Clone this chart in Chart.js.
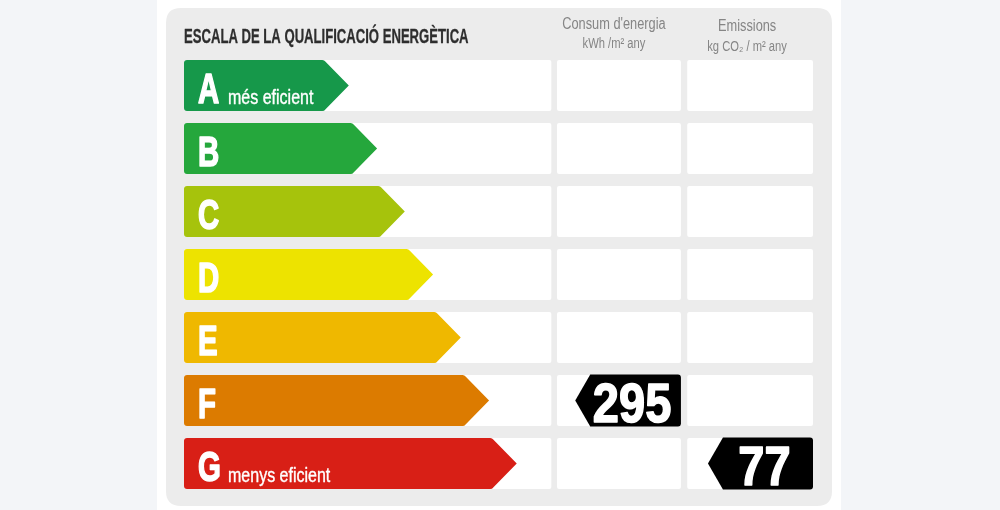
<!DOCTYPE html>
<html>
<head>
<meta charset="utf-8">
<title>Escala de la qualificació energètica</title>
<script src="https://cdn.jsdelivr.net/npm/chart.js@4/dist/chart.umd.min.js"></script>
<style>
  html, body { margin:0; padding:0; background:#f3f5f8; }
  canvas { display:block; }
</style>
</head>
<body>
<canvas id="labelChart" width="1000" height="510"></canvas>
<script>
// ======================
// DATA
// ======================
const ratings = ["A","B","C","D","E","F","G"];
const ratingNotes = ["més eficient","","","","","","menys eficient"];
const ratingColors = ["#16984a","#25a73c","#a6c30c","#ede300","#efb800","#dc7b00","#d81f16"];
// arrow length, % of the label width
const arrowLength = [26.2, 30.7, 35.1, 39.6, 44.0, 48.5, 52.9];

const columnTitles = ["Consum d'energia","Emissions"];
const columnUnits = ["kWh /m² any","kg CO₂ / m² any"];

const consumptionValue = 295;
const consumptionRating = "F";
const emissionsValue = 77;
const emissionsRating = "G";

// cell spans on the x scale: label column, consumption, emissions
const columnSpans = [[0, 58.4], [59.3, 79.0], [80.0, 100]];


// ======================
// FONT CHECK (narrow face may be missing)
// ======================
const probe = document.createElement("canvas").getContext("2d");
probe.font = "bold 40px 'Liberation Sans Narrow', monospace";
const wNarrow = probe.measureText("ABCDEFG").width;
probe.font = "bold 40px monospace";
const wMono = probe.measureText("ABCDEFG").width;
const hasNarrow = Math.abs(wNarrow - wMono) > 2;
const FAM = hasNarrow ? "'Liberation Sans Narrow', sans-serif" : "'Liberation Sans', Arial, sans-serif";
const SX = hasNarrow ? 1.22 : 1;   // base factor, texts below ask for their own squeeze

// squeeze: horizontal scale relative to the regular face; heavy: extra stroke
function narrowText(ctx, txt, x, y, font, color, align, squeeze, heavy){
  ctx.save();
  ctx.font = font;
  ctx.fillStyle = color;
  ctx.textAlign = align || "left";
  ctx.textBaseline = "alphabetic";
  ctx.translate(x, y);
  ctx.scale(Math.min(1, squeeze * SX), 1);
  ctx.fillText(txt, 0, 0);
  if(heavy){
    ctx.strokeStyle = color;
    ctx.lineWidth = heavy;
    ctx.lineJoin = "round";
    ctx.strokeText(txt, 0, 0);
  }
  ctx.restore();
}

function roundRect(ctx, x, y, w, h, r){
  ctx.beginPath();
  ctx.moveTo(x + r, y);
  ctx.lineTo(x + w - r, y);
  ctx.quadraticCurveTo(x + w, y, x + w, y + r);
  ctx.lineTo(x + w, y + h - r);
  ctx.quadraticCurveTo(x + w, y + h, x + w - r, y + h);
  ctx.lineTo(x + r, y + h);
  ctx.quadraticCurveTo(x, y + h, x, y + h - r);
  ctx.lineTo(x, y + r);
  ctx.quadraticCurveTo(x, y, x + r, y);
  ctx.closePath();
}


// ======================
// PLUGIN: panel, cells, arrows, markers
// ======================
const energyLabel = {
  id: "energyLabel",
  beforeDraw(chart){
    const ctx = chart.ctx;
    const xs = chart.scales.x, ys = chart.scales.y;
    ctx.save();
    ctx.fillStyle = "#f3f5f8";
    ctx.fillRect(0, 0, chart.width, chart.height);
    ctx.fillStyle = "#ffffff";
    ctx.fillRect(157, 0, 684, chart.height);
    ctx.fillStyle = "#ececec";
    roundRect(ctx, 166, 8, 666, 498, 15);
    ctx.fill();

    // white cells
    const band = (ys.getPixelForValue(1) - ys.getPixelForValue(0));
    const cellH = band * 0.81;
    ctx.fillStyle = "#ffffff";
    ratings.forEach((r, i) => {
      const cy = ys.getPixelForValue(i);
      columnSpans.forEach(s => {
        const x0 = xs.getPixelForValue(s[0]);
        const x1 = xs.getPixelForValue(s[1]);
        roundRect(ctx, x0, cy - cellH / 2, x1 - x0, cellH, 2);
        ctx.fill();
      });
    });

    // title + column headers
    narrowText(ctx, "ESCALA DE LA QUALIFICACIÓ ENERGÈTICA", xs.left, 43,
      "bold 20px " + FAM, "#2e2e2e", "left", 0.655, 0.3);
    const c1 = (xs.getPixelForValue(columnSpans[1][0]) + xs.getPixelForValue(columnSpans[1][1])) / 2 - 5;
    const c2 = (xs.getPixelForValue(columnSpans[2][0]) + xs.getPixelForValue(columnSpans[2][1])) / 2 - 3;
    narrowText(ctx, columnTitles[0], c1, 29, "16px " + FAM, "#858585", "center", 0.8);
    narrowText(ctx, columnUnits[0], c1, 48, "14px " + FAM, "#858585", "center", 0.8);
    narrowText(ctx, columnTitles[1], c2, 31, "16px " + FAM, "#858585", "center", 0.8);
    narrowText(ctx, columnUnits[1], c2, 51, "14px " + FAM, "#858585", "center", 0.8);
    ctx.restore();
  },
  beforeDatasetDraw(chart, args){
    const ctx = chart.ctx;
    const meta = args.meta;
    ctx.save();
    if(args.index === 0){
      meta.data.forEach((bar, i) => {
        const left = Math.min(bar.base, bar.x);
        const tip = Math.max(bar.base, bar.x);
        const top = bar.y - bar.height / 2;
        const bot = bar.y + bar.height / 2;
        const d = bar.height / 2;
        const r = 3;
        ctx.fillStyle = ratingColors[i];
        ctx.beginPath();
        ctx.moveTo(left + r, top);
        ctx.lineTo(tip - d - 1, top);
        ctx.quadraticCurveTo(tip - d + 1, top, tip - d + 2, top + 1.5);
        ctx.lineTo(tip, bar.y);
        ctx.lineTo(tip - d + 2, bot - 1.5);
        ctx.quadraticCurveTo(tip - d + 1, bot, tip - d - 1, bot);
        ctx.lineTo(left + r, bot);
        ctx.quadraticCurveTo(left, bot, left, bot - r);
        ctx.lineTo(left, top + r);
        ctx.quadraticCurveTo(left, top, left + r, top);
        ctx.closePath();
        ctx.fill();

        narrowText(ctx, ratings[i], left + 14, bar.y + 17, "bold 42px " + FAM, "#ffffff", "left", 0.7, 1.6);
        if(ratingNotes[i]){
          narrowText(ctx, ratingNotes[i], left + 44, bar.y + 18, "20px " + FAM, "#ffffff", "left", 0.8, 0.4);
        }
      });
    } else {
      const value = args.index === 1 ? consumptionValue : emissionsValue;
      meta.data.forEach(bar => {
        const tip = Math.min(bar.base, bar.x);
        const right = Math.max(bar.base, bar.x);
        const top = bar.y - bar.height / 2;
        const bot = bar.y + bar.height / 2;
        const d = 15;
        const r = 3;
        ctx.fillStyle = "#000000";
        ctx.beginPath();
        ctx.moveTo(tip + d, top);
        ctx.lineTo(right - r, top);
        ctx.quadraticCurveTo(right, top, right, top + r);
        ctx.lineTo(right, bot - r);
        ctx.quadraticCurveTo(right, bot, right - r, bot);
        ctx.lineTo(tip + d, bot);
        ctx.lineTo(tip, bar.y);
        ctx.closePath();
        ctx.fill();
        const cx = (tip + d + right) / 2 - 3.5;
        narrowText(ctx, String(value), cx, bar.y + 21.5, "bold 56px " + FAM, "#ffffff", "center", 0.84, 1.6);
      });
    }
    ctx.restore();
    return false;
  }
};


// ======================
// CHART
// ======================
new Chart(document.getElementById("labelChart"), {
  type: "bar",
  data: {
    labels: ratings,
    datasets: [
      {
        label: "Qualificació",
        data: arrowLength,
        backgroundColor: ratingColors,
        barThickness: 51,
        grouped: false
      },
      {
        label: columnTitles[0],
        data: [{ x: [columnSpans[1][0] + 2.9, columnSpans[1][1]], y: consumptionRating }],
        backgroundColor: "#000",
        barThickness: 52,
        grouped: false
      },
      {
        label: columnTitles[1],
        data: [{ x: [columnSpans[2][0] + 3.3, columnSpans[2][1]], y: emissionsRating }],
        backgroundColor: "#000",
        barThickness: 52,
        grouped: false
      }
    ]
  },
  options: {
    indexAxis: "y",
    responsive: false,
    animation: false,
    layout: { padding: { left: 184, right: 187, top: 54, bottom: 15 } },
    scales: {
      x: { type: "linear", min: 0, max: 100, display: false },
      y: { type: "category", display: false, offset: true }
    },
    plugins: {
      legend: { display: false },
      tooltip: { enabled: false }
    }
  },
  plugins: [energyLabel]
});
</script>
</body>
</html>
